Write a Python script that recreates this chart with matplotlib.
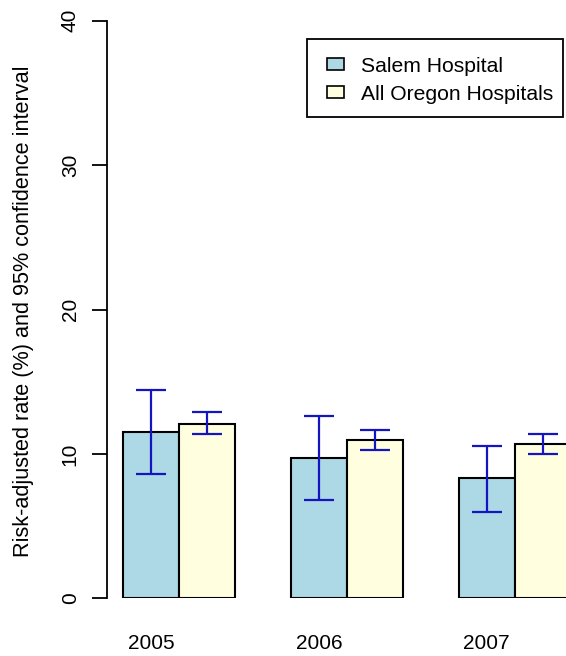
import matplotlib
matplotlib.use("Agg")
import matplotlib.pyplot as plt
import numpy as np
from matplotlib.patches import Patch, Rectangle

plt.rcParams['font.family'] = ['Liberation Sans', 'DejaVu Sans']

years = ["2005", "2006", "2007"]
series_names = ["Salem Hospital", "All Oregon Hospitals"]
salem_rate = [11.54, 9.70, 8.31]
salem_lo = [8.59, 6.81, 5.96]
salem_hi = [14.43, 12.65, 10.55]
oregon_rate = [12.07, 10.96, 10.69]
oregon_lo = [11.38, 10.27, 10.00]
oregon_hi = [12.88, 11.66, 11.38]
colors = ["#ADD8E6", "#FFFFE0"]
err_color = "#1414C0"

W, H = 566, 656
fig = plt.figure(figsize=(W / 100, H / 100), dpi=100)

# axes placement in pixels
ax_left_px, ax_right_px = 107, 566
y0_px, y40_px = 598.3, 20.7
unit_px = 55.9
first_left_px = 123.3
ax = fig.add_axes([ax_left_px / W, (H - y0_px) / H,
                   (ax_right_px - ax_left_px) / W, (y0_px - y40_px) / H])
ax.set_ylim(0, 40)
ax.set_xlim(1 - (first_left_px - ax_left_px) / unit_px,
            1 + (ax_right_px - first_left_px) / unit_px)

idx = np.arange(len(years))
x_salem = 1.5 + 3 * idx
x_oregon = 2.5 + 3 * idx

ax.bar(x_salem, salem_rate, width=1.0, color=colors[0], edgecolor="black",
       linewidth=1.5, zorder=2)
ax.bar(x_oregon, oregon_rate, width=1.0, color=colors[1], edgecolor="black",
       linewidth=1.5, zorder=2)

for xs, r, lo, hi in [(x_salem, salem_rate, salem_lo, salem_hi),
                      (x_oregon, oregon_rate, oregon_lo, oregon_hi)]:
    r = np.array(r); lo = np.array(lo); hi = np.array(hi)
    ax.errorbar(xs, r, yerr=[r - lo, hi - r], fmt="none", ecolor=err_color,
                elinewidth=1.6, capsize=10.6, capthick=1.6, zorder=3)

for s in ["top", "right", "bottom"]:
    ax.spines[s].set_visible(False)
ax.spines["left"].set_linewidth(1.3)
ax.spines["left"].set_bounds(0, 40)

ax.set_yticks([0, 10, 20, 30, 40])
ax.set_yticklabels(["0", "10", "20", "30", "40"], rotation=90, va="center",
                   fontsize=15)
ax.tick_params(axis="y", length=10.6, width=1.3, pad=9)

ax.set_xticks(x_salem)
ax.set_xticklabels(years, fontsize=15)
ax.tick_params(axis="x", length=0, pad=26)

fig.text(24 / W, (H - 311) / H, "Risk-adjusted rate (%) and 95% confidence interval",
         rotation=90, ha="center", va="center", fontsize=15.6)

# legend frame (drawn in figure pixels)
fig.patches.append(Rectangle((307 / W, (H - 117.3) / H), (563 - 307) / W,
                             (117.3 - 39.3) / H, transform=fig.transFigure,
                             facecolor="white", edgecolor="black",
                             linewidth=1.3, zorder=4))
handles = [Patch(facecolor=colors[0], edgecolor="black", linewidth=1.2),
           Patch(facecolor=colors[1], edgecolor="black", linewidth=1.2)]
leg = fig.legend(handles, series_names, loc="upper left",
                 bbox_to_anchor=(327 / W, (H - 56.5) / H),
                 bbox_transform=fig.transFigure, fontsize=15.2, frameon=False,
                 handlelength=0.8, handleheight=0.5, handletextpad=0.8,
                 borderpad=0, labelspacing=0.43, borderaxespad=0)
leg.set_zorder(5)

fig.savefig("out.png", dpi=100)
